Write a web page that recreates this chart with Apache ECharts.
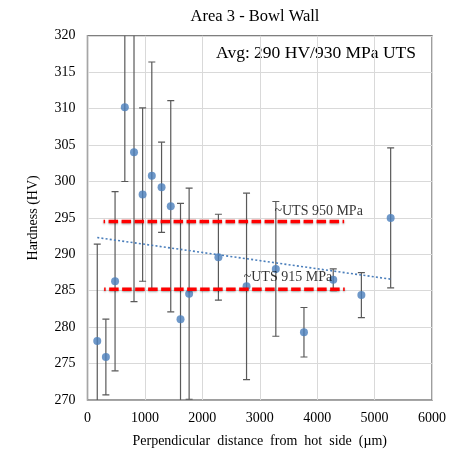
<!DOCTYPE html>
<html><head><meta charset="utf-8">
<script src="https://cdn.jsdelivr.net/npm/echarts@6/dist/echarts.min.js"></script>
<style>html,body{margin:0;padding:0;background:#fff}#c{width:460px;height:453px}</style>
</head><body><div id="c"></div>
<script>
// Data
const distance = [170, 320, 480, 650, 810, 960, 1120, 1290, 1450, 1620, 1770, 2280, 2770, 3280, 3770, 4280, 4770, 5280];
const hardness = [278.1, 275.9, 286.3, 310.2, 304.0, 298.2, 300.8, 299.2, 296.6, 281.1, 284.6, 289.6, 285.6, 288.0, 279.3, 286.5, 284.4, 295.0];
const errorHalf = [13.3, 5.2, 12.3, 10.2, 20.5, 11.9, 15.6, 6.2, 14.5, 15.9, 14.5, 5.9, 12.8, 9.25, 3.4, 1.5, 3.1, 9.6];
const utsLineNames = ['UTS 950', 'UTS 915'];
const utsLineY = [294.5, 285.2];
const utsLineXStart = [280, 290];
const utsLineXEnd = [4470, 4480];
const utsLabels = ['~UTS 950 MPa', '~UTS 915 MPa'];
const utsLabelX = [3255, 2720];
const utsLabelY = [295.9, 286.8];
const avgText = 'Avg: 290 HV/930 MPa UTS';
const titleText = 'Area 3 - Bowl Wall';
const xName = 'Perpendicular  distance  from  hot  side  (µm)';
const yName = 'Hardness (HV)';

// Linear least-squares trendline (as in the original spreadsheet chart)
const n = distance.length;
const mx = distance.reduce((a, b) => a + b, 0) / n;
const my = hardness.reduce((a, b) => a + b, 0) / n;
let sxy = 0, sxx = 0;
for (let i = 0; i < n; i++) { sxy += (distance[i] - mx) * (hardness[i] - my); sxx += (distance[i] - mx) ** 2; }
const slope = sxy / sxx, icpt = my - slope * mx;
const xFirst = distance[0], xLast = distance[n - 1];
const trend = [[xFirst, icpt + slope * xFirst], [xLast, icpt + slope * xLast]];

const serif = '"Liberation Serif", "DejaVu Serif", serif';
const chart = echarts.init(document.getElementById('c'));

const series = [
  {
    type: 'custom', name: 'err', clip: true, z: 2,
    data: distance.map((x, i) => [x, hardness[i], errorHalf[i]]),
    renderItem: function (params, api) {
      const x = api.value(0), y = api.value(1), e = api.value(2);
      const t = api.coord([x, y + e]), b = api.coord([x, y - e]);
      const hw = 3.5;
      const st = { stroke: '#595959', lineWidth: 1.2 };
      return { type: 'group', children: [
        { type: 'line', shape: { x1: t[0], y1: t[1], x2: b[0], y2: b[1] }, style: st },
        { type: 'line', shape: { x1: t[0] - hw, y1: t[1], x2: t[0] + hw, y2: t[1] }, style: st },
        { type: 'line', shape: { x1: b[0] - hw, y1: b[1], x2: b[0] + hw, y2: b[1] }, style: st }
      ] };
    }
  },
  {
    type: 'scatter', name: 'Hardness', z: 3,
    data: distance.map((x, i) => [x, hardness[i]]),
    symbolSize: 8,
    itemStyle: { color: '#4A7EBB' }
  },
  {
    type: 'line', name: 'trend', z: 4, silent: true,
    data: trend, symbol: 'none',
    lineStyle: { color: '#4A7EBB', width: 1.6, type: [2, 2.2] }
  }
];
utsLineNames.forEach((nm, i) => {
  series.push({
    type: 'line', name: nm, z: 5, silent: true, symbol: 'none',
    data: [[utsLineXStart[i], utsLineY[i]], [utsLineXEnd[i], utsLineY[i]]],
    lineStyle: { color: '#FF0000', width: 3.5, type: [9.5, 3.5], dashOffset: 8,
      shadowColor: 'rgba(0,0,0,0.35)', shadowBlur: 2, shadowOffsetY: 1 }
  });
});
series.push({
  type: 'scatter', name: 'labels', z: 6, silent: true, symbolSize: 0,
  data: utsLabels.map((t, i) => ({ value: [utsLabelX[i], utsLabelY[i]], label: { formatter: t } })),
  label: { show: true, position: 'right', distance: 0, fontFamily: serif, fontSize: 14, color: '#000' }
});

chart.setOption({
  animation: false,
  title: { text: titleText, left: 250, top: 3, textAlign: 'center',
    textStyle: { fontFamily: serif, fontSize: 16.5, fontWeight: 'normal', color: '#000' } },
  grid: { left: 87.5, right: 28, top: 35.8, bottom: 52, show: true, borderColor: '#7f7f7f', borderWidth: 1.5, backgroundColor: 'transparent' },
  graphic: [{ type: 'text', right: 44, top: 44, style: { text: avgText, font: '17.5px ' + serif, fill: '#000' } }],
  xAxis: {
    type: 'value', min: 0, max: 6000, interval: 1000,
    name: xName, nameLocation: 'middle', nameGap: 34,
    nameTextStyle: { fontFamily: serif, fontSize: 14, color: '#000' },
    axisLine: { show: true, lineStyle: { color: '#a6a6a6' } },
    axisTick: { show: false },
    axisLabel: { fontFamily: serif, fontSize: 14, color: '#000', margin: 11, formatter: v => String(v) },
    splitLine: { show: true, lineStyle: { color: '#d9d9d9', width: 1 } }
  },
  yAxis: {
    type: 'value', min: 270, max: 320, interval: 5,
    name: yName, nameLocation: 'middle', nameGap: 47, nameRotate: 90,
    nameTextStyle: { fontFamily: serif, fontSize: 14, color: '#000' },
    axisLine: { show: true, lineStyle: { color: '#a6a6a6' } },
    axisTick: { show: false },
    axisLabel: { fontFamily: serif, fontSize: 14, color: '#000', margin: 12 },
    splitLine: { show: true, lineStyle: { color: '#d9d9d9', width: 1 } }
  },
  series: series
});
</script></body></html>
